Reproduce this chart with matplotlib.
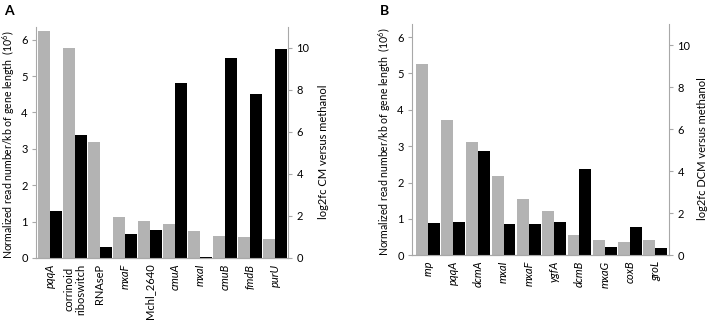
import numpy as np
import matplotlib
matplotlib.use("Agg")
import matplotlib.pyplot as plt

plt.rcParams['font.family'] = ['Lato', 'DejaVu Sans']
plt.rcParams['mathtext.default'] = 'regular'

# panel A
genesA = ["pqqA", "corrinoid\nriboswitch", "RNAseP", "mxaF", "Mchl_2640",
          "cmuA", "mxaI", "cmuB", "fmdB", "purU"]
italicA = [True, False, False, True, False, True, True, True, True, True]
readsA = [6.25, 5.77, 3.2, 1.12, 1.01, 0.94, 0.75, 0.6, 0.58, 0.51]
log2fcA = [2.23, 5.88, 0.54, 1.14, 1.31, 8.34, 0.06, 9.54, 7.8, 9.97]

# panel B
genesB = ["rnp", "pqqA", "dcmA", "mxaI", "mxaF", "ygfA", "dcmB", "mxaG", "coxB", "groL"]
italicB = [True] * 10
readsB = [5.25, 3.73, 3.12, 2.17, 1.55, 1.21, 0.57, 0.42, 0.37, 0.42]
log2fcB = [1.54, 1.59, 4.95, 1.5, 1.47, 1.59, 4.13, 0.38, 1.35, 0.35]

gray = "#b3b3b3"
spine_col = "#a8a8a8"
fs = 8

fig = plt.figure(figsize=(7.08, 3.24), dpi=100)


def panel(rect, genes, italic, reads, log2fc, rlabel, xlim, letter, lx):
    ax = fig.add_axes(rect)
    ax2 = ax.twinx()
    x = np.arange(len(genes))
    w = 0.47
    ax.bar(x - w / 2, reads, width=w, color=gray, linewidth=0)
    ax2.bar(x + w / 2, log2fc, width=w, color="black", linewidth=0)
    ax.set_xlim(*xlim)
    ax.set_ylim(0, 6.35)
    ax2.set_ylim(0, 11)
    ax.set_yticks(range(0, 7))
    ax2.set_yticks(range(0, 11, 2))
    for a in (ax, ax2):
        a.spines['top'].set_visible(False)
        for s in ('left', 'right', 'bottom'):
            a.spines[s].set_color(spine_col)
            a.spines[s].set_linewidth(0.8)
        a.tick_params(axis='y', length=3, width=0.8, color=spine_col,
                      labelsize=fs, pad=3)
    ax.spines['right'].set_visible(False)
    ax2.spines['left'].set_visible(False)
    ax.set_xticks(x)
    ax.set_xticklabels(genes, rotation=90, fontsize=fs, va='top', ha='center',
                       linespacing=1.1)
    for lab, it in zip(ax.get_xticklabels(), italic):
        if it:
            lab.set_style('italic')
    ax.tick_params(axis='x', length=0, pad=4)
    ax.set_ylabel("Normalized read number/kb of gene length  (10$^6$)", fontsize=7.6)
    ax.yaxis.set_label_coords(-0.075, 0.49)
    ax2.set_ylabel(rlabel, fontsize=fs)
    ax2.yaxis.set_label_coords(lx, 0.46)
    fig.text(rect[0] - 0.045, 0.965, letter, fontsize=10, fontweight='bold',
             ha='left', va='center')
    return ax, ax2


panel([36 / 708, 1 - 258 / 324, 252 / 708, 231 / 324], genesA, italicA, readsA,
      log2fcA, "log2fc CM versus methanol", (-0.56, 9.52), "A", 1.12)
panel([412 / 708, 1 - 255.3 / 324, 257 / 708, 231 / 324], genesB, italicB, readsB,
      log2fcB, "log2fc DCM versus methanol", (-0.62, 9.54), "B", 1.11)

fig.savefig("out.png", dpi=100)
